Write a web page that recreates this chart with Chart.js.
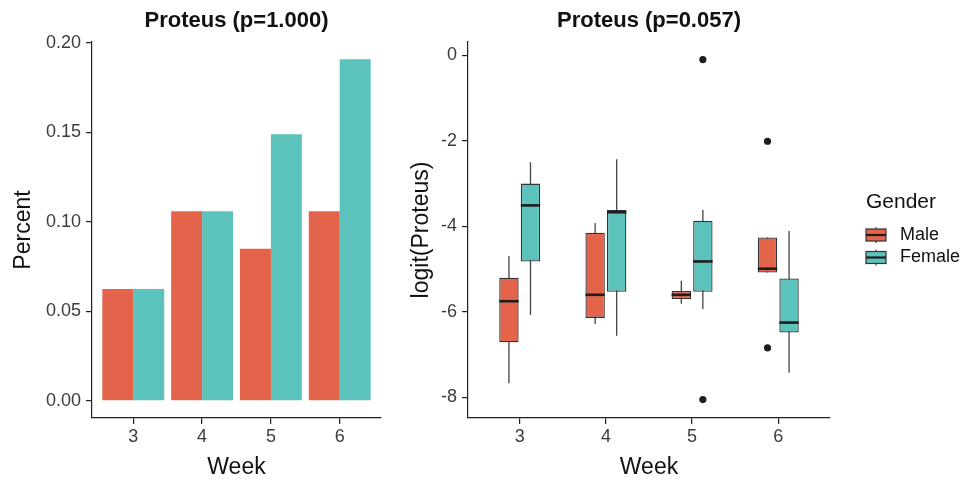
<!DOCTYPE html>
<html lang="en">
<head>
<meta charset="utf-8"/>
<title>Proteus by week and gender</title>
<script src="https://cdn.jsdelivr.net/npm/chart.js"></script>
<style>
  html, body { margin: 0; padding: 0; background: #fff; }
  .wrap { position: relative; width: 971px; height: 483px; }
  #bar-box { position: absolute; left: 0; top: 0; width: 400px; height: 483px; }
  #box-box { position: absolute; left: 400px; top: 0; width: 571px; height: 483px; }
</style>
</head>
<body>
<div class="wrap">
  <div id="bar-box"><canvas id="bar-chart"></canvas></div>
  <div id="box-box"><canvas id="box-chart"></canvas></div>
</div>
<script>
const FONT = '"Liberation Sans", Arial, sans-serif';

const weeks = [3, 4, 5, 6];
const genders = ['Male', 'Female'];
const colors = ['#E4644B', '#5BC3BC'];

// left panel
const barTitle = 'Proteus (p=1.000)';
const malePercent = [0.0625, 0.106, 0.085, 0.106];
const femalePercent = [0.0625, 0.106, 0.149, 0.191];
const percentTicks = [0, 0.05, 0.10, 0.15, 0.20];

// right panel, boxplot stats per week
const boxTitle = 'Proteus (p=0.057)';
const maleLow    = [-7.67, -6.28, -5.81, -5.08];
const maleQ1     = [-6.71, -6.14, -5.70, -5.08];
const maleMedian = [-5.75, -5.60, -5.60, -4.99];
const maleQ3     = [-5.20, -4.15, -5.51, -4.26];
const maleHigh   = [-4.69, -3.92, -5.27, -4.26];
const femaleLow    = [-6.07, -6.56, -5.93, -7.42];
const femaleQ1     = [-4.82, -5.53, -5.53, -6.48];
const femaleMedian = [-3.51, -3.67, -4.82, -6.25];
const femaleQ3     = [-3.00, -3.62, -3.87, -5.22];
const femaleHigh   = [-2.50, -2.43, -3.62, -4.11];
const maleOutliers = [[], [], [], [-2.01, -6.84]];
const femaleOutliers = [[], [], [-0.10, -8.05], []];
const logitTicks = [0, -2, -4, -6, -8];
const dodge = 0.125;

const boxStats = [
  { low: maleLow, median: maleMedian, high: maleHigh },
  { low: femaleLow, median: femaleMedian, high: femaleHigh }
];

// title centred over the plot panel
const panelTitle = {
  id: 'panelTitle',
  afterDraw(chart, args, opts) {
    const { ctx, chartArea } = chart;
    ctx.save();
    ctx.font = `bold 22px ${FONT}`;
    ctx.fillStyle = '#111';
    ctx.textAlign = 'center';
    ctx.textBaseline = 'middle';
    ctx.fillText(opts.text, (chartArea.left + chartArea.right) / 2, 21);
    ctx.restore();
  }
};

// whiskers under the boxes, medians on top
const boxParts = {
  id: 'boxParts',
  beforeDatasetsDraw(chart) {
    const { ctx } = chart;
    const y = chart.scales.y;
    ctx.save();
    ctx.strokeStyle = '#444';
    ctx.lineWidth = 1.3;
    boxStats.forEach((s, di) => {
      chart.getDatasetMeta(di).data.forEach((bar, i) => {
        ctx.beginPath();
        ctx.moveTo(bar.x, y.getPixelForValue(s.low[i]));
        ctx.lineTo(bar.x, y.getPixelForValue(s.high[i]));
        ctx.stroke();
      });
    });
    ctx.restore();
  },
  afterDatasetsDraw(chart) {
    const { ctx } = chart;
    const y = chart.scales.y;
    ctx.save();
    ctx.strokeStyle = '#1e1e1e';
    ctx.lineWidth = 2.6;
    boxStats.forEach((s, di) => {
      chart.getDatasetMeta(di).data.forEach((bar, i) => {
        const py = y.getPixelForValue(s.median[i]);
        ctx.beginPath();
        ctx.moveTo(bar.x - bar.width / 2, py);
        ctx.lineTo(bar.x + bar.width / 2, py);
        ctx.stroke();
      });
    });
    ctx.restore();
  }
};

const genderLegend = {
  id: 'genderLegend',
  afterDraw(chart) {
    const { ctx, chartArea } = chart;
    const x0 = chartArea.right + 36;
    ctx.save();
    ctx.textBaseline = 'middle';
    ctx.fillStyle = '#111';
    ctx.font = `21px ${FONT}`;
    ctx.fillText('Gender', x0, 202);
    genders.forEach((g, i) => {
      const cy = 235 + i * 22.5;
      ctx.strokeStyle = '#444';
      ctx.lineWidth = 1.2;
      ctx.beginPath();
      ctx.moveTo(x0 + 10, cy - 8);
      ctx.lineTo(x0 + 10, cy + 8);
      ctx.stroke();
      ctx.fillStyle = colors[i];
      ctx.fillRect(x0, cy - 6, 20, 12);
      ctx.strokeStyle = '#333';
      ctx.strokeRect(x0, cy - 6, 20, 12);
      ctx.strokeStyle = '#1e1e1e';
      ctx.lineWidth = 2.2;
      ctx.beginPath();
      ctx.moveTo(x0, cy);
      ctx.lineTo(x0 + 20, cy);
      ctx.stroke();
      ctx.fillStyle = '#111';
      ctx.font = `18px ${FONT}`;
      ctx.fillText(g, x0 + 34, cy);
    });
    ctx.restore();
  }
};

function xAxis() {
  return {
    type: 'linear', min: 2.4, max: 6.6, offset: false,
    afterBuildTicks: s => { s.ticks = weeks.map(v => ({ value: v })); },
    afterFit: s => { s.height = 65; },
    grid: { offset: false, drawOnChartArea: false, drawTicks: true, tickLength: 6, color: '#222', lineWidth: 1.2 },
    border: { display: true, color: '#222', width: 1.2 },
    ticks: { font: { family: FONT, size: 18 }, color: '#3c3c3c', padding: 2, callback: v => String(v) },
    title: { display: true, text: 'Week', color: '#111', font: { family: FONT, size: 23 }, padding: { top: 0, bottom: 2 } }
  };
}

function yAxis(min, max, tickValues, fmt, width, titleText, titlePad) {
  return {
    min, max,
    afterBuildTicks: s => { s.ticks = tickValues.map(v => ({ value: v })); },
    afterFit: s => { s.width = width; },
    grid: { drawOnChartArea: false, drawTicks: true, tickLength: 6, color: '#222', lineWidth: 1.2 },
    border: { display: true, color: '#222', width: 1.2 },
    ticks: { font: { family: FONT, size: 18 }, color: '#3c3c3c', padding: 5, callback: fmt },
    title: { display: true, text: titleText, color: '#111', font: { family: FONT, size: 23 }, padding: { top: titlePad, bottom: 0 } }
  };
}

new Chart(document.getElementById('bar-chart'), {
  type: 'bar',
  data: {
    datasets: [
      { label: genders[0], data: weeks.map((w, i) => ({ x: w, y: malePercent[i] })), backgroundColor: colors[0] },
      { label: genders[1], data: weeks.map((w, i) => ({ x: w, y: femalePercent[i] })), backgroundColor: colors[1] }
    ]
  },
  options: {
    responsive: true,
    maintainAspectRatio: false,
    animation: false,
    categoryPercentage: 0.9,
    barPercentage: 1.0,
    layout: { padding: { top: 42, left: 0, right: 19, bottom: 0 } },
    plugins: { legend: { display: false }, tooltip: { enabled: false }, panelTitle: { text: barTitle } },
    scales: {
      x: xAxis(),
      y: yAxis(-0.0096, 0.2006, percentTicks, v => v.toFixed(2), 92, 'Percent', 10)
    }
  },
  plugins: [panelTitle]
});

const outlierPoints = [];
weeks.forEach((w, i) => {
  maleOutliers[i].forEach(v => outlierPoints.push({ x: w - dodge, y: v }));
  femaleOutliers[i].forEach(v => outlierPoints.push({ x: w + dodge, y: v }));
});

new Chart(document.getElementById('box-chart'), {
  type: 'bar',
  data: {
    datasets: [
      { label: genders[0], data: weeks.map((w, i) => ({ x: w, y: [maleQ1[i], maleQ3[i]] })),
        backgroundColor: colors[0], borderColor: '#333', borderWidth: 1.3, borderSkipped: false },
      { label: genders[1], data: weeks.map((w, i) => ({ x: w, y: [femaleQ1[i], femaleQ3[i]] })),
        backgroundColor: colors[1], borderColor: '#333', borderWidth: 1.3, borderSkipped: false },
      { type: 'scatter', label: 'outliers', data: outlierPoints,
        pointRadius: 3.6, pointBackgroundColor: '#1e1e1e', pointBorderWidth: 0 }
    ]
  },
  options: {
    responsive: true,
    maintainAspectRatio: false,
    animation: false,
    categoryPercentage: 0.5,
    barPercentage: 0.9,
    layout: { padding: { top: 42, left: 0, right: 141, bottom: 0 } },
    plugins: { legend: { display: false }, tooltip: { enabled: false }, panelTitle: { text: boxTitle } },
    scales: {
      x: xAxis(),
      y: yAxis(-8.48, 0.31, logitTicks, v => String(v), 68, 'logit(Proteus)', 8)
    }
  },
  plugins: [panelTitle, boxParts, genderLegend]
});
</script>
</body>
</html>
